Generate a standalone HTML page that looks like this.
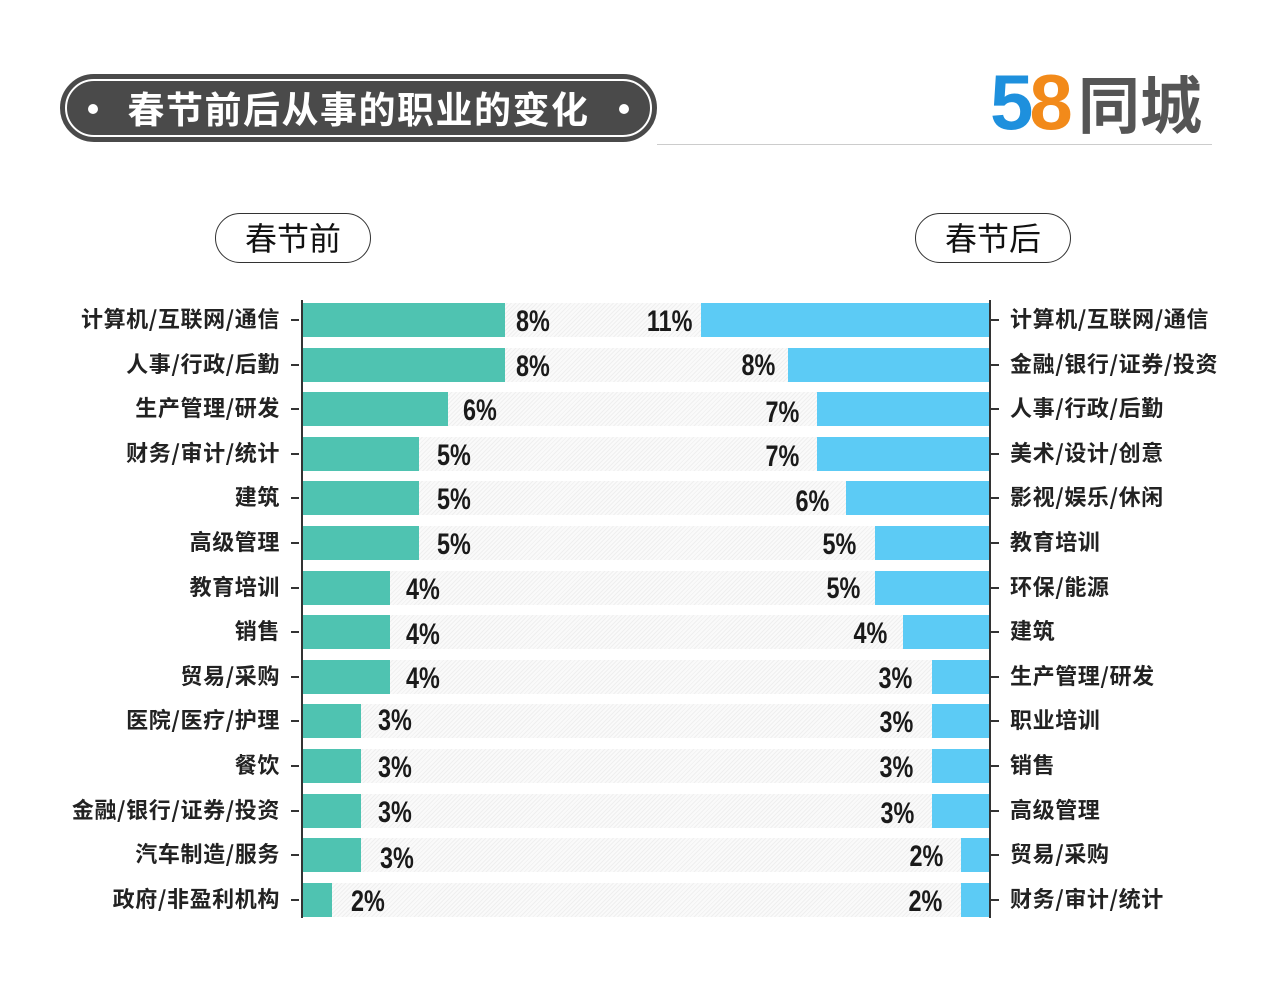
<!DOCTYPE html>
<html><head><meta charset="utf-8"><style>
body{margin:0;width:1280px;height:1004px;background:#fff;position:relative;overflow:hidden;font-family:"Liberation Sans","Noto Sans CJK SC",sans-serif;}
.a{position:absolute}
.title{left:60px;top:74px;width:597px;height:68px;box-sizing:border-box;border-radius:34px;background:#4a4a4a;border:2px solid #4a4a4a;}
.title .in{position:absolute;left:3px;top:3px;right:3px;bottom:3px;border:2px solid #fff;border-radius:30px;}
.title .t{position:absolute;left:0;right:0;top:11px;text-align:center;color:#fff;font-size:37px;font-weight:bold;letter-spacing:1.5px;font-family:"Noto Sans CJK SC",sans-serif;line-height:40px}
.dot{width:10px;height:10px;border-radius:5px;background:#fff;top:28px}
.pill{height:50px;top:213px;width:156px;box-sizing:border-box;border:1.5px solid #333;border-radius:25px;text-align:center;font-size:32px;line-height:46px;color:#111;font-family:"Noto Sans CJK SC",sans-serif}
.row{position:absolute;left:303px;width:686px;height:34px;background:repeating-linear-gradient(135deg,#efefef 0 1px,#fafafa 1px 3px)}
.lb{position:absolute;font-size:22px;letter-spacing:0.6px;font-weight:bold;color:#222;line-height:34px;font-family:"Noto Sans CJK SC",sans-serif;white-space:nowrap;margin-top:-2px}
.lbl{right:1000px;text-align:right}
.lbr{left:1010px}
.bl{position:absolute;left:303px;height:34px;background:#4fc3b1}
.br{position:absolute;right:291px;height:34px;background:#5ccbf5}
.v{position:absolute;font-size:30px;line-height:34px;color:#1a1a1a;font-weight:bold;transform:scaleX(0.78);white-space:nowrap;top:2px}
.vl{transform-origin:left}
.vr{transform-origin:right;text-align:right}
.tk{position:absolute;width:8px;height:2px;background:#333}
</style></head><body>
<div class="a title"><div class="in"></div><div class="a dot" style="left:26px"></div><div class="a dot" style="right:26px"></div><div class="t">春节前后从事的职业的变化</div></div>
<div class="a" style="left:657px;top:144px;width:555px;height:1px;background:#ccc"></div>
<div class="a" style="left:990px;top:62px;font-size:78px;font-weight:bold;line-height:80px;letter-spacing:-4px"><span style="color:#1e90dd">5</span><span style="color:#f28a1a">8</span></div>
<div class="a" style="left:1078px;top:66px;font-size:62px;color:#555;line-height:70px;font-family:'Noto Sans CJK SC',sans-serif;font-weight:bold">同城</div>
<div class="a pill" style="left:215px">春节前</div>
<div class="a pill" style="left:915px">春节后</div>
<div class="a" style="left:301px;top:300px;width:2px;height:618px;background:#333"></div>
<div class="a" style="left:989px;top:300px;width:2px;height:618px;background:#333"></div>

<div class="row" style="top:303px"></div><div class="row" style="top:347.6px"></div><div class="row" style="top:392.2px"></div><div class="row" style="top:436.8px"></div><div class="row" style="top:481.4px"></div><div class="row" style="top:526px"></div><div class="row" style="top:570.6px"></div><div class="row" style="top:615.2px"></div><div class="row" style="top:659.8px"></div><div class="row" style="top:704.4px"></div><div class="row" style="top:749px"></div><div class="row" style="top:793.6px"></div><div class="row" style="top:838.2px"></div><div class="row" style="top:882.8px"></div>

<!-- left -->
<div class="lb lbl" style="top:303px">计算机/互联网/通信</div><div class="tk" style="left:291px;top:319px"></div><div class="bl" style="top:303px;width:202px"></div><div class="v vl" style="left:516px;top:305px">8%</div>
<div class="lb lbl" style="top:347.6px">人事/行政/后勤</div><div class="tk" style="left:291px;top:364px"></div><div class="bl" style="top:347.6px;width:202px"></div><div class="v vl" style="left:516px;top:350px">8%</div>
<div class="lb lbl" style="top:392.2px">生产管理/研发</div><div class="tk" style="left:291px;top:408px"></div><div class="bl" style="top:392.2px;width:145px"></div><div class="v vl" style="left:463px;top:394px">6%</div>
<div class="lb lbl" style="top:436.8px">财务/审计/统计</div><div class="tk" style="left:291px;top:453px"></div><div class="bl" style="top:436.8px;width:116px"></div><div class="v vl" style="left:437px;top:439px">5%</div>
<div class="lb lbl" style="top:481.4px">建筑</div><div class="tk" style="left:291px;top:497px"></div><div class="bl" style="top:481.4px;width:116px"></div><div class="v vl" style="left:437px;top:483px">5%</div>
<div class="lb lbl" style="top:526px">高级管理</div><div class="tk" style="left:291px;top:542px"></div><div class="bl" style="top:526px;width:116px"></div><div class="v vl" style="left:437px;top:528px">5%</div>
<div class="lb lbl" style="top:570.6px">教育培训</div><div class="tk" style="left:291px;top:587px"></div><div class="bl" style="top:570.6px;width:87px"></div><div class="v vl" style="left:406px;top:573px">4%</div>
<div class="lb lbl" style="top:615.2px">销售</div><div class="tk" style="left:291px;top:631px"></div><div class="bl" style="top:615.2px;width:87px"></div><div class="v vl" style="left:406px;top:618px">4%</div>
<div class="lb lbl" style="top:659.8px">贸易/采购</div><div class="tk" style="left:291px;top:676px"></div><div class="bl" style="top:659.8px;width:87px"></div><div class="v vl" style="left:406px;top:662px">4%</div>
<div class="lb lbl" style="top:704.4px">医院/医疗/护理</div><div class="tk" style="left:291px;top:720px"></div><div class="bl" style="top:704.4px;width:58px"></div><div class="v vl" style="left:378px;top:704px">3%</div>
<div class="lb lbl" style="top:749px">餐饮</div><div class="tk" style="left:291px;top:765px"></div><div class="bl" style="top:749px;width:58px"></div><div class="v vl" style="left:378px;top:751px">3%</div>
<div class="lb lbl" style="top:793.6px">金融/银行/证券/投资</div><div class="tk" style="left:291px;top:810px"></div><div class="bl" style="top:793.6px;width:58px"></div><div class="v vl" style="left:378px;top:796px">3%</div>
<div class="lb lbl" style="top:838.2px">汽车制造/服务</div><div class="tk" style="left:291px;top:854px"></div><div class="bl" style="top:838.2px;width:58px"></div><div class="v vl" style="left:380px;top:842px">3%</div>
<div class="lb lbl" style="top:882.8px">政府/非盈利机构</div><div class="tk" style="left:291px;top:899px"></div><div class="bl" style="top:882.8px;width:29px"></div><div class="v vl" style="left:351px;top:885px">2%</div>

<!-- right -->
<div class="lb lbr" style="top:303px">计算机/互联网/通信</div><div class="tk" style="left:991px;top:319px"></div><div class="br" style="top:303px;width:288px"></div><div class="v vr" style="right:588px;top:305px">11%</div>
<div class="lb lbr" style="top:347.6px">金融/银行/证券/投资</div><div class="tk" style="left:991px;top:364px"></div><div class="br" style="top:347.6px;width:201px"></div><div class="v vr" style="right:505px;top:349px">8%</div>
<div class="lb lbr" style="top:392.2px">人事/行政/后勤</div><div class="tk" style="left:991px;top:408px"></div><div class="br" style="top:392.2px;width:172px"></div><div class="v vr" style="right:481px;top:396px">7%</div>
<div class="lb lbr" style="top:436.8px">美术/设计/创意</div><div class="tk" style="left:991px;top:453px"></div><div class="br" style="top:436.8px;width:172px"></div><div class="v vr" style="right:481px;top:440px">7%</div>
<div class="lb lbr" style="top:481.4px">影视/娱乐/休闲</div><div class="tk" style="left:991px;top:497px"></div><div class="br" style="top:481.4px;width:143px"></div><div class="v vr" style="right:451px;top:485px">6%</div>
<div class="lb lbr" style="top:526px">教育培训</div><div class="tk" style="left:991px;top:542px"></div><div class="br" style="top:526px;width:114px"></div><div class="v vr" style="right:424px;top:528px">5%</div>
<div class="lb lbr" style="top:570.6px">环保/能源</div><div class="tk" style="left:991px;top:587px"></div><div class="br" style="top:570.6px;width:114px"></div><div class="v vr" style="right:420px;top:572px">5%</div>
<div class="lb lbr" style="top:615.2px">建筑</div><div class="tk" style="left:991px;top:631px"></div><div class="br" style="top:615.2px;width:86px"></div><div class="v vr" style="right:393px;top:617px">4%</div>
<div class="lb lbr" style="top:659.8px">生产管理/研发</div><div class="tk" style="left:991px;top:676px"></div><div class="br" style="top:659.8px;width:57px"></div><div class="v vr" style="right:368px;top:662px">3%</div>
<div class="lb lbr" style="top:704.4px">职业培训</div><div class="tk" style="left:991px;top:720px"></div><div class="br" style="top:704.4px;width:57px"></div><div class="v vr" style="right:367px;top:706px">3%</div>
<div class="lb lbr" style="top:749px">销售</div><div class="tk" style="left:991px;top:765px"></div><div class="br" style="top:749px;width:57px"></div><div class="v vr" style="right:367px;top:751px">3%</div>
<div class="lb lbr" style="top:793.6px">高级管理</div><div class="tk" style="left:991px;top:810px"></div><div class="br" style="top:793.6px;width:57px"></div><div class="v vr" style="right:366px;top:797px">3%</div>
<div class="lb lbr" style="top:838.2px">贸易/采购</div><div class="tk" style="left:991px;top:854px"></div><div class="br" style="top:838.2px;width:28px"></div><div class="v vr" style="right:337px;top:840px">2%</div>
<div class="lb lbr" style="top:882.8px">财务/审计/统计</div><div class="tk" style="left:991px;top:899px"></div><div class="br" style="top:882.8px;width:28px"></div><div class="v vr" style="right:338px;top:885px">2%</div>
</body></html>
